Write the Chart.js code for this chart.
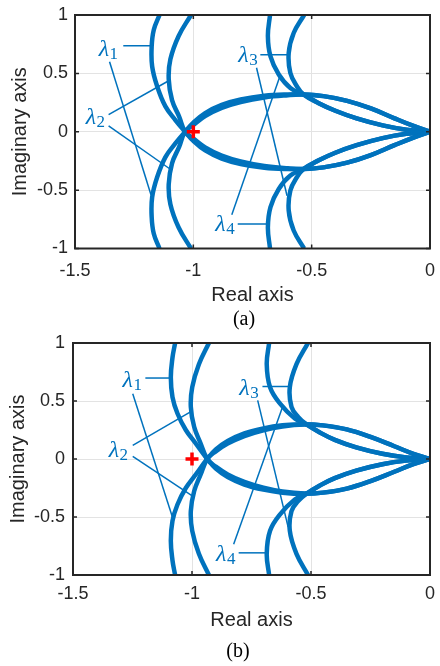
<!DOCTYPE html>
<html>
<head>
<meta charset="utf-8">
<script src="https://cdn.jsdelivr.net/npm/chart.js@4.4.1/dist/chart.umd.min.js"></script>
<style>
  body { margin: 0; background: #fff; }
  .box { position: absolute; left: 0; width: 440px; height: 333px; }
</style>
</head>
<body>
<div class="box" style="top:0"><canvas id="chartA" width="440" height="333"></canvas></div>
<div class="box" style="top:333px"><canvas id="chartB" width="440" height="333"></canvas></div>
<script>
var BLUE = '#0072BD';
var TXT = '#262626';
var FONT = '"Liberation Sans", Arial, sans-serif';
var SERIF = '"Liberation Serif", "Times New Roman", serif';

var xTicks = [-1.5, -1, -0.5, 0];
var yTicks = [-1, -0.5, 0, 0.5, 1];
var critPoint = [[-1, 0]];
var labelNames = ['1', '2', '3', '4'];

// ---- plot (a) ----
var a_lam1_top = [[-1.143,1],[-1.167,0.874],[-1.176,0.73],[-1.174,0.56],[-1.153,0.39],[-1.118,0.217],[-1.076,0.1],[-1.035,0],
  [-1.0,-0.078],[-0.95,-0.16],[-0.88,-0.23],[-0.8,-0.276],[-0.7,-0.308],[-0.6,-0.32],[-0.535,-0.32],
  [-0.45,-0.305],[-0.35,-0.265],[-0.25,-0.2],[-0.15,-0.115],[-0.07,-0.05],[0,0]];
var a_lam1_bot = [[-1.143,-1],[-1.167,-0.874],[-1.176,-0.73],[-1.174,-0.56],[-1.153,-0.39],[-1.118,-0.217],[-1.076,-0.1],[-1.035,0],
  [-1.0,0.078],[-0.95,0.16],[-0.88,0.23],[-0.8,0.276],[-0.7,0.308],[-0.6,0.32],[-0.535,0.32],
  [-0.45,0.305],[-0.35,0.265],[-0.25,0.2],[-0.15,0.115],[-0.07,0.05],[0,0]];
var a_lam2_top = [[-1.01,1],[-1.062,0.82],[-1.097,0.62],[-1.104,0.45],[-1.09,0.27],[-1.06,0.13],[-1.035,0],
  [-1.0,-0.058],[-0.95,-0.135],[-0.88,-0.205],[-0.8,-0.255],[-0.7,-0.294],[-0.6,-0.313],[-0.535,-0.318],
  [-0.45,-0.305],[-0.35,-0.265],[-0.25,-0.2],[-0.15,-0.115],[-0.07,-0.05],[0,0]];
var a_lam2_bot = [[-1.01,-1],[-1.062,-0.82],[-1.097,-0.62],[-1.104,-0.45],[-1.09,-0.27],[-1.06,-0.13],[-1.035,0],
  [-1.0,0.058],[-0.95,0.135],[-0.88,0.205],[-0.8,0.255],[-0.7,0.294],[-0.6,0.313],[-0.535,0.318],
  [-0.45,0.305],[-0.35,0.265],[-0.25,0.2],[-0.15,0.115],[-0.07,0.05],[0,0]];
var a_lam3_top = [[-0.532,1],[-0.576,0.846],[-0.597,0.675],[-0.59,0.503],[-0.5625,0.39],[-0.535,0.32],
  [-0.47,0.245],[-0.4,0.18],[-0.31,0.115],[-0.2,0.055],[-0.1,0.018],[0,0]];
var a_lam3_bot = [[-0.532,-1],[-0.576,-0.846],[-0.597,-0.675],[-0.59,-0.503],[-0.5625,-0.39],[-0.535,-0.32],
  [-0.47,-0.245],[-0.4,-0.18],[-0.31,-0.115],[-0.2,-0.055],[-0.1,-0.018],[0,0]];
var a_lam4_top = [[-0.676,1],[-0.685,0.82],[-0.674,0.645],[-0.639,0.49],[-0.59,0.375],[-0.535,0.32],
  [-0.47,0.245],[-0.4,0.18],[-0.31,0.115],[-0.2,0.055],[-0.1,0.018],[0,0]];
var a_lam4_bot = [[-0.676,-1],[-0.685,-0.82],[-0.674,-0.645],[-0.639,-0.49],[-0.59,-0.375],[-0.535,-0.32],
  [-0.47,-0.245],[-0.4,-0.18],[-0.31,-0.115],[-0.2,-0.055],[-0.1,-0.018],[0,0]];
var a_leaders = [
  [[-1.296,0.737],[-1.179,0.737]], [[-1.354,0.6],[-1.179,-0.54]],
  [[-1.358,0.146],[-1.104,0.437]], [[-1.358,0.05],[-1.1,-0.317]],
  [[-0.717,0.66],[-0.6,0.66]], [[-0.733,0.548],[-0.604,-0.548]],
  [[-0.8125,-0.79],[-0.6875,-0.79]], [[-0.8375,-0.71],[-0.632,0.488]]];
var a_labelPos = [[-1.4,0.645],[-1.455,0.063],[-0.81,0.596],[-0.907,-0.846]];

// ---- plot (b) ----
var b_lam1_top = [[-1.071,1],[-1.082,0.874],[-1.089,0.704],[-1.082,0.534],[-1.061,0.392],[-1.026,0.25],[-0.985,0.136],[-0.936,0],
  [-0.9,-0.082],[-0.85,-0.155],[-0.78,-0.22],[-0.7,-0.264],[-0.62,-0.29],[-0.528,-0.3],
  [-0.45,-0.29],[-0.35,-0.255],[-0.25,-0.19],[-0.15,-0.11],[-0.07,-0.045],[0,0]];
var b_lam1_bot = [[-1.071,-1],[-1.082,-0.874],[-1.089,-0.704],[-1.082,-0.534],[-1.061,-0.392],[-1.026,-0.25],[-0.985,-0.136],[-0.936,0],
  [-0.9,0.082],[-0.85,0.155],[-0.78,0.22],[-0.7,0.264],[-0.62,0.29],[-0.528,0.3],
  [-0.45,0.29],[-0.35,0.255],[-0.25,0.19],[-0.15,0.11],[-0.07,0.045],[0,0]];
var b_lam2_top = [[-0.929,1],[-0.971,0.817],[-0.999,0.619],[-1.005,0.449],[-0.991,0.278],[-0.964,0.136],[-0.936,0],
  [-0.9,-0.066],[-0.85,-0.133],[-0.78,-0.198],[-0.7,-0.248],[-0.62,-0.281],[-0.528,-0.298],
  [-0.45,-0.29],[-0.35,-0.255],[-0.25,-0.19],[-0.15,-0.11],[-0.07,-0.045],[0,0]];
var b_lam2_bot = [[-0.929,-1],[-0.971,-0.817],[-0.999,-0.619],[-1.005,-0.449],[-0.991,-0.278],[-0.964,-0.136],[-0.936,0],
  [-0.9,0.066],[-0.85,0.133],[-0.78,0.198],[-0.7,0.248],[-0.62,0.281],[-0.528,0.298],
  [-0.45,0.29],[-0.35,0.255],[-0.25,0.19],[-0.15,0.11],[-0.07,0.045],[0,0]];
var b_lam3_top = [[-0.5125,1],[-0.561,0.817],[-0.589,0.619],[-0.582,0.449],[-0.554,0.363],[-0.52,0.3],
  [-0.46,0.225],[-0.4,0.165],[-0.31,0.1],[-0.2,0.045],[-0.1,0.014],[0,0]];
var b_lam3_bot = [[-0.5125,-1],[-0.561,-0.817],[-0.589,-0.619],[-0.582,-0.449],[-0.554,-0.363],[-0.52,-0.3],
  [-0.46,-0.225],[-0.4,-0.165],[-0.31,-0.1],[-0.2,-0.045],[-0.1,-0.014],[0,0]];
var b_lam4_top = [[-0.676,1],[-0.686,0.817],[-0.672,0.619],[-0.63,0.477],[-0.568,0.349],[-0.52,0.3],
  [-0.46,0.225],[-0.4,0.165],[-0.31,0.1],[-0.2,0.045],[-0.1,0.014],[0,0]];
var b_lam4_bot = [[-0.676,-1],[-0.686,-0.817],[-0.672,-0.619],[-0.63,-0.477],[-0.568,-0.349],[-0.52,-0.3],
  [-0.46,-0.225],[-0.4,-0.165],[-0.31,-0.1],[-0.2,-0.045],[-0.1,-0.014],[0,0]];
var b_leaders = [
  [[-1.196,0.698],[-1.089,0.698]], [[-1.249,0.562],[-1.082,-0.502]],
  [[-1.249,0.117],[-1.001,0.412]], [[-1.249,0.023],[-0.999,-0.317]],
  [[-0.704,0.625],[-0.589,0.625]], [[-0.724,0.506],[-0.596,-0.587]],
  [[-0.804,-0.809],[-0.686,-0.809]], [[-0.825,-0.734],[-0.617,0.463]]];
var b_labelPos = [[-1.292,0.619],[-1.35,0.017],[-0.801,0.556],[-0.899,-0.877]];

function toXY(arr){
  return arr.map(function(p){ return {x: p[0], y: p[1]}; });
}

// box around the axes + inward ticks (matlab style)
var framePlugin = {
  id: 'frame',
  afterDraw: function(chart){
    var ctx = chart.ctx, a = chart.chartArea;
    var xs = chart.scales.x, ys = chart.scales.y;
    ctx.save();
    ctx.strokeStyle = TXT;
    ctx.lineWidth = 1.5;
    ctx.beginPath();
    xTicks.forEach(function(v){
      var px = xs.getPixelForValue(v);
      ctx.moveTo(px, a.bottom); ctx.lineTo(px, a.bottom - 4);
      ctx.moveTo(px, a.top); ctx.lineTo(px, a.top + 4);
    });
    yTicks.forEach(function(v){
      var py = ys.getPixelForValue(v);
      ctx.moveTo(a.left, py); ctx.lineTo(a.left + 4, py);
      ctx.moveTo(a.right, py); ctx.lineTo(a.right - 4, py);
    });
    ctx.stroke();
    ctx.lineWidth = 2;
    ctx.strokeRect(a.left, a.top, a.right - a.left, a.bottom - a.top);
    ctx.restore();
  }
};

function makeLabelPlugin(labelPos, caption, capX, capY){
  return {
    id: 'lamLabels',
    afterDraw: function(chart){
      var ctx = chart.ctx;
      var xs = chart.scales.x, ys = chart.scales.y;
      ctx.save();
      ctx.fillStyle = BLUE;
      ctx.textBaseline = 'alphabetic';
      ctx.textAlign = 'left';
      labelPos.forEach(function(p, i){
        var px = xs.getPixelForValue(p[0]);
        var py = ys.getPixelForValue(p[1]);
        ctx.font = 'italic 24px ' + SERIF;
        ctx.fillText('\u03bb', px, py);
        var w = ctx.measureText('\u03bb').width;
        ctx.font = '17px ' + SERIF;
        ctx.fillText(labelNames[i], px + w + 0.5, py + 3);
      });
      ctx.fillStyle = '#000';
      ctx.textAlign = 'center';
      ctx.textBaseline = 'middle';
      ctx.font = '20px ' + SERIF;
      ctx.fillText(caption, capX, capY);
      ctx.restore();
    }
  };
}

function buildChart(id, curves, leaders, labelPos, caption, lay){
  var datasets = [{
    data: toXY(critPoint),
    pointStyle: 'cross',
    pointRadius: 6.5,
    borderColor: '#ff0000',
    backgroundColor: '#ff0000',
    borderWidth: 3.5,
    showLine: false
  }];
  curves.forEach(function(c){
    datasets.push({data: toXY(c), showLine: true, borderColor: BLUE, borderWidth: 4.5,
      pointRadius: 0, tension: 0.4, fill: false});
  });
  leaders.forEach(function(l){
    datasets.push({data: toXY(l), showLine: true, borderColor: BLUE, borderWidth: 1.5,
      pointRadius: 0, tension: 0, fill: false});
  });

  return new Chart(document.getElementById(id), {
    type: 'scatter',
    data: {datasets: datasets},
    options: {
      responsive: false,
      animation: false,
      devicePixelRatio: 1,
      layout: {padding: {left: 0, right: lay.right, top: lay.top, bottom: lay.bottom}},
      plugins: {legend: {display: false}, tooltip: {enabled: false}},
      scales: {
        x: {
          type: 'linear', min: -1.5, max: 0,
          afterBuildTicks: function(s){ s.ticks = xTicks.map(function(v){ return {value: v}; }); },
          afterFit: function(s){ s.height = lay.xH; s.paddingLeft = 0; s.paddingRight = 0; },
          grid: {color: '#e3e3e3', lineWidth: 1, drawTicks: false},
          border: {display: false},
          ticks: {padding: lay.xTickPad, color: TXT, font: {family: FONT, size: 18},
            callback: function(v){ return String(v); }},
          title: {display: true, text: 'Real axis', color: TXT, font: {family: FONT, size: 20}, padding: 0}
        },
        y: {
          type: 'linear', min: -1, max: 1,
          afterBuildTicks: function(s){ s.ticks = yTicks.map(function(v){ return {value: v}; }); },
          afterFit: function(s){ s.width = lay.yW; s.paddingTop = 0; s.paddingBottom = 0; },
          grid: {color: '#e3e3e3', lineWidth: 1, drawTicks: false},
          border: {display: false},
          ticks: {padding: lay.yTickPad, color: TXT, font: {family: FONT, size: 18},
            callback: function(v){ return String(v); }},
          title: {display: true, text: 'Imaginary axis', color: TXT, font: {family: FONT, size: 20},
            padding: {top: lay.yTitlePad, bottom: 0}}
        }
      }
    },
    plugins: [framePlugin, makeLabelPlugin(labelPos, caption, lay.capX, lay.capY)]
  });
}

buildChart('chartA',
  [a_lam1_top, a_lam1_bot, a_lam2_top, a_lam2_bot, a_lam3_top, a_lam3_bot, a_lam4_top, a_lam4_bot],
  a_leaders, a_labelPos, '(a)',
  {right: 5, top: 15, bottom: 26, xH: 58.5, yW: 75, xTickPad: 12, yTickPad: 7, yTitlePad: 8, capX: 244, capY: 320});

buildChart('chartB',
  [b_lam1_top, b_lam1_bot, b_lam2_top, b_lam2_bot, b_lam3_top, b_lam3_bot, b_lam4_top, b_lam4_bot],
  b_leaders, b_labelPos, '(b)',
  {right: 7, top: 7, bottom: 34, xH: 57, yW: 73, xTickPad: 8, yTickPad: 8, yTitlePad: 6, capX: 238, capY: 319});
</script>
</body>
</html>
